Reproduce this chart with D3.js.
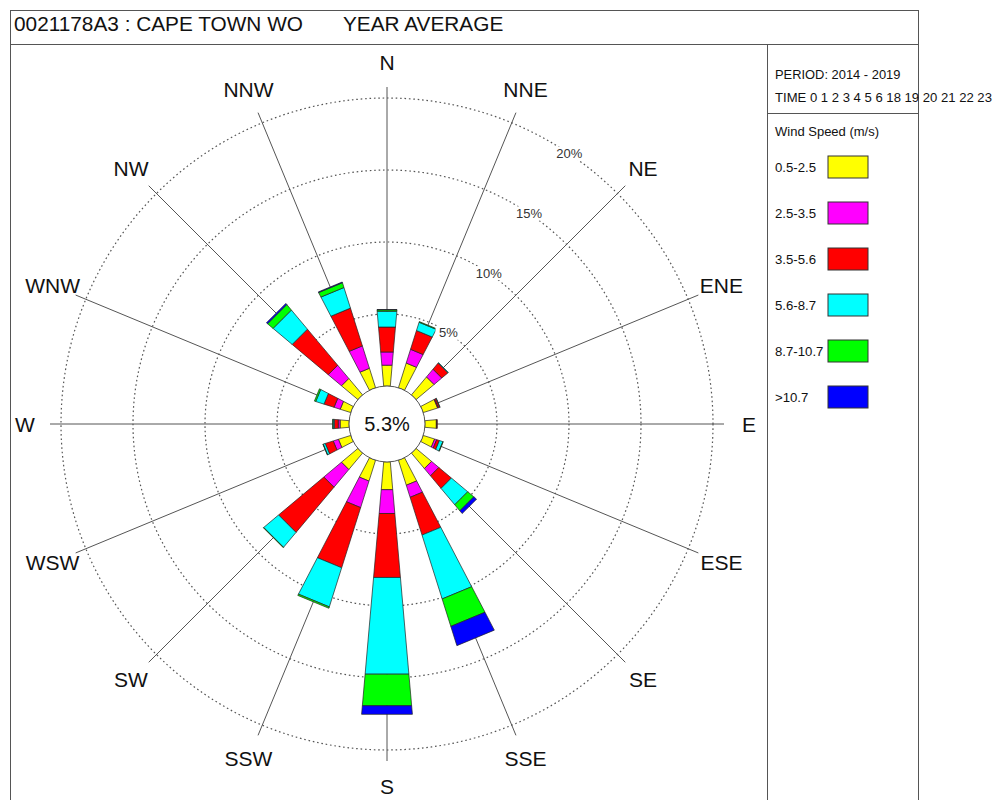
<!DOCTYPE html>
<html>
<head>
<meta charset="utf-8">
<script src="https://cdn.jsdelivr.net/npm/d3@7"></script>
<style>
  body { margin: 0; background: #fff; }
  text { font-family: "Liberation Sans", Arial, sans-serif; fill: #111; }
</style>
</head>
<body>
<svg id="chart" width="995" height="800"></svg>
<script>
// Sixteen compass sectors, clockwise from north
const directions = ["N", "NNE", "NE", "ENE", "E", "ESE", "SE", "SSE",
                    "S", "SSW", "SW", "WSW", "W", "WNW", "NW", "NNW"];

// Wind speed classes (m/s) and their fills
const speedBins = ["0.5-2.5", "2.5-3.5", "3.5-5.6", "5.6-8.7", "8.7-10.7", ">10.7"];
const binColors = ["#ffff00", "#ff00ff", "#ff0000", "#00ffff", "#00ff00", "#0000ff"];

// Frequency (% of all hours) for each speed class, per direction
const speed_0_5_2_5  = [1.46, 1.80, 1.63, 1.05, 0.80, 0.83, 1.40, 1.82, 1.94, 1.52, 1.49, 0.90, 0.63, 0.77, 1.49, 1.42];
const speed_2_5_3_5  = [0.92, 1.00, 0.70, 0.05, 0.03, 0.15, 0.66, 0.88, 1.66, 1.93, 1.60, 0.38, 0.13, 0.45, 1.20, 1.63];
const speed_3_5_5_6  = [1.74, 1.37, 0.55, 0.10, 0.03, 0.20, 1.14, 2.75, 4.46, 4.38, 4.10, 0.58, 0.28, 0.73, 3.27, 2.75];
const speed_5_6_8_7  = [1.10, 0.60, 0.05, 0.03, 0.00, 0.25, 1.48, 4.65, 6.74, 2.85, 1.35, 0.15, 0.08, 0.60, 1.73, 1.50];
const speed_8_7_10_7 = [0.10, 0.05, 0.00, 0.00, 0.00, 0.03, 0.55, 2.00, 2.20, 0.10, 0.03, 0.02, 0.03, 0.10, 0.50, 0.35];
const speed_gt_10_7  = [0.02, 0.00, 0.00, 0.00, 0.00, 0.00, 0.25, 1.40, 0.60, 0.00, 0.00, 0.00, 0.00, 0.00, 0.10, 0.05];

const calmPercent = 5.3;
const ringTicks = [5, 10, 15, 20];

const stationTitle = "0021178A3 : CAPE TOWN WO";
const periodTitle = "YEAR AVERAGE";
const periodText = "PERIOD: 2014 - 2019";
const hoursUsed = [0, 1, 2, 3, 4, 5, 6, 18, 19, 20, 21, 22, 23];
const legendTitle = "Wind Speed (m/s)";

// ---------------------------------------------------------------
const svg = d3.select("#chart");

// Frame: outer box, title strip, legend column
const frame = svg.append("g").attr("fill", "none").attr("stroke", "#555").attr("stroke-width", 1);
frame.append("rect").attr("x", 10.5).attr("y", 10.5).attr("width", 908).attr("height", 810);
frame.append("line").attr("x1", 10.5).attr("x2", 918.5).attr("y1", 44.5).attr("y2", 44.5);
frame.append("line").attr("x1", 767.5).attr("x2", 767.5).attr("y1", 44.5).attr("y2", 800);
frame.append("line").attr("x1", 767.5).attr("x2", 767.5 + 151).attr("y1", 113.5).attr("y2", 113.5);

svg.append("text").attr("x", 14).attr("y", 31).attr("font-size", 20.8).text(stationTitle);
svg.append("text").attr("x", 343).attr("y", 31).attr("font-size", 20.8).text(periodTitle);

// Rose geometry
const cx = 387, cy = 424;
const r = d3.scaleLinear().domain([0, 20]).range([38, 326]);
const angle = d3.scalePoint().domain(directions).range([0, 2 * Math.PI * 15 / 16]);
const halfWidth = 5 * Math.PI / 180;
const spokeEnd = 337, labelRadius = 362;

const px = (a, rad) => cx + rad * Math.sin(a);
const py = (a, rad) => cy - rad * Math.cos(a);

const rose = svg.append("g");

// Dotted percentage rings
rose.selectAll("circle.ring").data(ringTicks).join("circle")
  .attr("class", "ring")
  .attr("cx", cx).attr("cy", cy).attr("r", d => r(d))
  .attr("fill", "none").attr("stroke", "#555").attr("stroke-width", 1.2)
  .attr("stroke-dasharray", "1.6,2.8");

// Direction spokes
rose.selectAll("line.spoke").data(directions).join("line")
  .attr("class", "spoke")
  .attr("x1", d => px(angle(d), r(0))).attr("y1", d => py(angle(d), r(0)))
  .attr("x2", d => px(angle(d), spokeEnd)).attr("y2", d => py(angle(d), spokeEnd))
  .attr("stroke", "#555").attr("stroke-width", 1);

// Direction labels
rose.selectAll("text.dir").data(directions).join("text")
  .attr("class", "dir")
  .attr("x", d => px(angle(d), labelRadius)).attr("y", d => py(angle(d), labelRadius))
  .attr("text-anchor", "middle").attr("dominant-baseline", "central")
  .attr("font-size", 21).text(d => d);

// Stacked sectors
const series = [speed_0_5_2_5, speed_2_5_3_5, speed_3_5_5_6, speed_5_6_8_7, speed_8_7_10_7, speed_gt_10_7];
const table = directions.map((d, i) => {
  const row = { dir: d };
  speedBins.forEach((b, j) => row[b] = series[j][i]);
  return row;
});
const stacked = d3.stack().keys(speedBins)(table);

const wedge = (dir, v0, v1) => {
  const a = angle(dir), r0 = r(v0), r1 = r(v1);
  return d3.line()([
    [px(a - halfWidth, r0), py(a - halfWidth, r0)],
    [px(a - halfWidth, r1), py(a - halfWidth, r1)],
    [px(a + halfWidth, r1), py(a + halfWidth, r1)],
    [px(a + halfWidth, r0), py(a + halfWidth, r0)]
  ]) + "Z";
};

const layers = rose.selectAll("g.layer").data(stacked).join("g")
  .attr("class", "layer")
  .attr("fill", (d, i) => binColors[i]);
layers.selectAll("path").data(d => d.filter(p => p[1] - p[0] > 0)).join("path")
  .attr("d", p => wedge(p.data.dir, p[0], p[1]))
  .attr("stroke", "#222").attr("stroke-width", 0.7).attr("stroke-linejoin", "miter");

// Ring labels on the NNE side
const tickAngle = 34 * Math.PI / 180;
const ringLabels = rose.selectAll("g.rlabel").data(ringTicks).join("g")
  .attr("class", "rlabel")
  .attr("transform", d => `translate(${px(tickAngle, r(d))},${py(tickAngle, r(d))})`);
ringLabels.append("rect").attr("x", -13).attr("y", -7).attr("width", 26).attr("height", 14).attr("fill", "#fff");
ringLabels.append("text").attr("text-anchor", "middle").attr("dominant-baseline", "central")
  .attr("font-size", 13).style("fill", "#333").text(d => d + "%");

// Calm circle
rose.append("circle").attr("cx", cx).attr("cy", cy).attr("r", r(0))
  .attr("fill", "#fff").attr("stroke", "#555").attr("stroke-width", 1);
rose.append("text").attr("x", cx).attr("y", cy).attr("text-anchor", "middle")
  .attr("dominant-baseline", "central").attr("font-size", 20).text(calmPercent + "%");

// Legend column
const legend = svg.append("g");
legend.append("text").attr("x", 775).attr("y", 79).attr("font-size", 12.9).text(periodText);
legend.append("text").attr("x", 775).attr("y", 102).attr("font-size", 13.1).text("TIME  " + hoursUsed.join(" "));
legend.append("text").attr("x", 775).attr("y", 136).attr("font-size", 13).text(legendTitle);

const rows = legend.selectAll("g.item").data(speedBins).join("g")
  .attr("class", "item")
  .attr("transform", (d, i) => `translate(0,${167 + i * 46})`);
rows.append("text").attr("x", 775).attr("y", 0).attr("dominant-baseline", "central")
  .attr("font-size", 13.2).text(d => d);
rows.append("rect").attr("x", 828).attr("y", -11).attr("width", 40).attr("height", 22)
  .attr("fill", (d, i) => binColors[i]).attr("stroke", "#333").attr("stroke-width", 1);
</script>
</body>
</html>
